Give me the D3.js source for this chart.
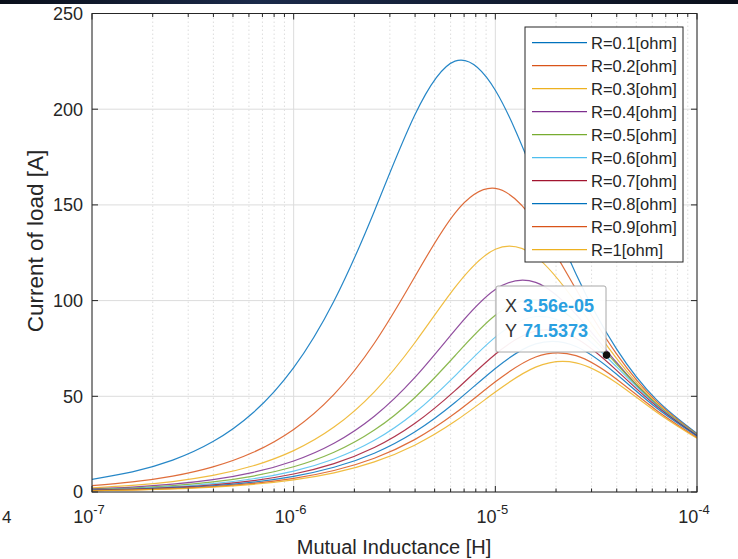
<!DOCTYPE html>
<html>
<head>
<meta charset="utf-8">
<script src="https://cdn.jsdelivr.net/npm/d3@7"></script>
<style>
  html, body { margin: 0; padding: 0; background: #ffffff; }
  svg { display: block; font-family: "Liberation Sans", Arial, Helvetica, sans-serif; }
</style>
</head>
<body>
<svg id="chart" width="738" height="559"></svg>
<script>
// ---- data ----
const xValues = [1e-7, 1.585e-7, 2.512e-7, 3.981e-7, 6.310e-7, 1e-6, 1.585e-6, 2.512e-6,
                 3.981e-6, 6.310e-6, 1e-5, 1.585e-5, 2.512e-5, 3.981e-5, 6.310e-5, 1e-4];
const seriesNames = ["R=0.1[ohm]", "R=0.2[ohm]", "R=0.3[ohm]", "R=0.4[ohm]", "R=0.5[ohm]",
                     "R=0.6[ohm]", "R=0.7[ohm]", "R=0.8[ohm]", "R=0.9[ohm]", "R=1[ohm]"];
const r01 = [6.64, 10.52, 16.65, 26.34, 41.53, 64.98, 99.8, 146.7, 196.8, 225.1, 209.9, 163.6, 113.9, 74.9, 48.1, 30.6];
const r02 = [3.31, 5.24, 8.30, 13.14, 20.76, 32.7, 51.0, 77.7, 112.3, 145.7, 158.6, 140.7, 105.9, 72.3, 47.2, 30.2];
const r03 = [2.18, 3.45, 5.47, 8.66, 13.70, 21.62, 33.91, 52.33, 77.85, 106.9, 126.8, 123.1, 98.9, 70.0, 46.4, 29.9];
const r04 = [1.63, 2.58, 4.09, 6.48, 10.26, 16.21, 25.48, 39.58, 59.75, 84.6, 105.8, 109.5, 92.8, 67.8, 45.6, 29.6];
const r05 = [1.32, 2.10, 3.32, 5.26, 8.33, 13.17, 20.74, 32.34, 49.27, 71.18, 92.30, 100.4, 89.0, 67.0, 45.8, 29.9];
const r06 = [1.10, 1.74, 2.76, 4.37, 6.93, 10.95, 17.27, 27.00, 41.41, 60.70, 80.92, 91.68, 84.65, 65.49, 45.41, 29.83];
const r07 = [0.94, 1.49, 2.37, 3.75, 5.94, 9.39, 14.82, 23.21, 35.76, 52.94, 72.00, 84.12, 80.30, 63.67, 44.74, 29.57];
const r08 = [0.82, 1.30, 2.06, 3.27, 5.17, 8.19, 12.92, 20.27, 31.33, 46.74, 64.57, 77.37, 76.04, 61.66, 43.89, 29.18];
const r09 = [0.71, 1.13, 1.79, 2.84, 4.50, 7.12, 11.24, 17.66, 27.37, 41.10, 57.55, 70.54, 71.25, 59.09, 42.62, 28.51];
const r10 = [0.64, 1.01, 1.60, 2.53, 4.01, 6.34, 10.02, 15.75, 24.46, 36.91, 52.24, 65.25, 67.48, 57.11, 41.70, 28.07];
const seriesValues = [r01, r02, r03, r04, r05, r06, r07, r08, r09, r10];
const colors = ["#0072BD", "#D95319", "#EDB120", "#7E2F8E", "#77AC30",
                "#4DBEEE", "#A2142F", "#0072BD", "#D95319", "#EDB120"];
const xTickExps = [-7, -6, -5, -4];
const yTicks = [0, 50, 100, 150, 200, 250];
const tipX = 3.56e-5, tipY = 71.5373;
const tipXLabel = "3.56e-05", tipYLabel = "71.5373";
const xTitle = "Mutual Inductance [H]";
const yTitle = "Current of load [A]";

// ---- layout ----
const L = 92, R = 697, T = 13.5, B = 492;
const svg = d3.select("#chart");
const x = d3.scaleLog().domain([1e-7, 1e-4]).range([L, R]);
const y = d3.scaleLinear().domain([0, 250]).range([B, T]);
const ink = "#262626";

// top dark band (screenshot artefact)
const grad = svg.append("defs").append("linearGradient").attr("id", "band");
grad.append("stop").attr("offset", "0%").attr("stop-color", "#0a0f1a");
grad.append("stop").attr("offset", "35%").attr("stop-color", "#1b2a4a");
grad.append("stop").attr("offset", "100%").attr("stop-color", "#0a0f1a");
svg.append("rect").attr("x", 0).attr("y", 0).attr("width", 738).attr("height", 4).attr("fill", "url(#band)");

// plot background
svg.append("rect").attr("x", L).attr("y", T).attr("width", R - L).attr("height", B - T).attr("fill", "#fff");

// grid
const minor = [];
for (let e = -7; e < -4; e++) for (let m = 2; m <= 9; m++) minor.push(m * Math.pow(10, e));
const majors = xTickExps.map(e => Math.pow(10, e));
const g = svg.append("g");
g.selectAll("line.minor").data(minor).join("line")
  .attr("x1", d => x(d)).attr("x2", d => x(d)).attr("y1", T).attr("y2", B)
  .attr("stroke", "#d4d4d4").attr("stroke-width", 0.8).attr("stroke-dasharray", "1.5,2.5");
g.selectAll("line.majx").data(majors).join("line")
  .attr("x1", d => x(d)).attr("x2", d => x(d)).attr("y1", T).attr("y2", B)
  .attr("stroke", "#dcdcdc").attr("stroke-width", 1);
g.selectAll("line.majy").data(yTicks).join("line")
  .attr("x1", L).attr("x2", R).attr("y1", d => y(d)).attr("y2", d => y(d))
  .attr("stroke", "#dcdcdc").attr("stroke-width", 1);

// lines
svg.append("clipPath").attr("id", "clip").append("rect")
  .attr("x", L).attr("y", T).attr("width", R - L).attr("height", B - T);
const line = d3.line().x(d => x(d[0])).y(d => y(d[1])).curve(d3.curveNatural);
const lg = svg.append("g").attr("clip-path", "url(#clip)");
seriesValues.forEach((vals, i) => {
  lg.append("path")
    .datum(xValues.map((xv, j) => [xv, vals[j]]))
    .attr("d", line).attr("fill", "none")
    .attr("stroke", colors[i]).attr("stroke-width", 1.2).attr("stroke-opacity", 0.85);
});

// axes (box with inward ticks on all sides)
const ax = svg.append("g").attr("stroke", ink).attr("stroke-width", 1);
ax.append("rect").attr("x", L).attr("y", T).attr("width", R - L).attr("height", B - T).attr("fill", "none");
const allX = majors.concat(minor);
allX.forEach(v => {
  const len = majors.includes(v) ? 6 : 3.5;
  ax.append("line").attr("x1", x(v)).attr("x2", x(v)).attr("y1", B).attr("y2", B - len);
  ax.append("line").attr("x1", x(v)).attr("x2", x(v)).attr("y1", T).attr("y2", T + len);
});
yTicks.forEach(v => {
  ax.append("line").attr("x1", L).attr("x2", L + 6).attr("y1", y(v)).attr("y2", y(v));
  ax.append("line").attr("x1", R).attr("x2", R - 6).attr("y1", y(v)).attr("y2", y(v));
});

// tick labels
svg.selectAll("text.yt").data(yTicks).join("text")
  .attr("x", L - 9).attr("y", d => y(d)).attr("dy", "0.36em")
  .attr("text-anchor", "end").attr("font-size", 18).attr("fill", ink).text(d => d);
xTickExps.forEach(e => {
  const t = svg.append("text").attr("x", x(Math.pow(10, e)) - 3).attr("y", 523)
    .attr("text-anchor", "middle").attr("font-size", 18).attr("fill", ink);
  t.append("tspan").text("10");
  t.append("tspan").attr("font-size", 13).attr("dy", -9).text(String(e));
});

// axis titles
svg.append("text").attr("x", (L + R) / 2 - 0.5).attr("y", 554)
  .attr("text-anchor", "middle").attr("font-size", 20).attr("fill", ink).text(xTitle);
svg.append("text").attr("transform", "translate(43,241) rotate(-90)")
  .attr("text-anchor", "middle").attr("font-size", 22.5).attr("fill", ink).text(yTitle);

// legend
const lgx = 525, lgy = 27, lgw = 158, lgh = 235;
svg.append("rect").attr("x", lgx).attr("y", lgy).attr("width", lgw).attr("height", lgh)
  .attr("fill", "#fff").attr("stroke", ink).attr("stroke-width", 1);
seriesNames.forEach((name, i) => {
  const cy = 42.7 + i * 23;
  svg.append("line").attr("x1", 532).attr("x2", 587).attr("y1", cy).attr("y2", cy)
    .attr("stroke", colors[i]).attr("stroke-width", 1.2);
  svg.append("text").attr("x", 591).attr("y", cy).attr("dy", "0.36em")
    .attr("font-size", 16.5).attr("fill", ink).text(name);
});

// data tip
const px = x(tipX), py = y(tipY);
svg.append("rect").attr("x", 496).attr("y", 286).attr("width", 110).attr("height", 66)
  .attr("rx", 2).attr("fill", "#ffffff").attr("fill-opacity", 0.93)
  .attr("stroke", "#a8a8a8").attr("stroke-width", 1);
const tx = svg.append("text").attr("x", 505).attr("y", 312).attr("font-size", 18).attr("fill", "#333");
tx.append("tspan").text("X ");
tx.append("tspan").attr("x", 523).attr("font-weight", "bold").attr("fill", "#2a9fe0").text(tipXLabel);
const ty = svg.append("text").attr("x", 505).attr("y", 337).attr("font-size", 18).attr("fill", "#333");
ty.append("tspan").text("Y ");
ty.append("tspan").attr("x", 523).attr("font-weight", "bold").attr("fill", "#2a9fe0").text(tipYLabel);
svg.append("circle").attr("cx", px).attr("cy", py).attr("r", 3.8).attr("fill", "#111");

// stray label from neighbouring figure at the left edge
svg.append("text").attr("x", 2).attr("y", 523).attr("font-size", 17).attr("fill", ink).text("4");
</script>
</body>
</html>
